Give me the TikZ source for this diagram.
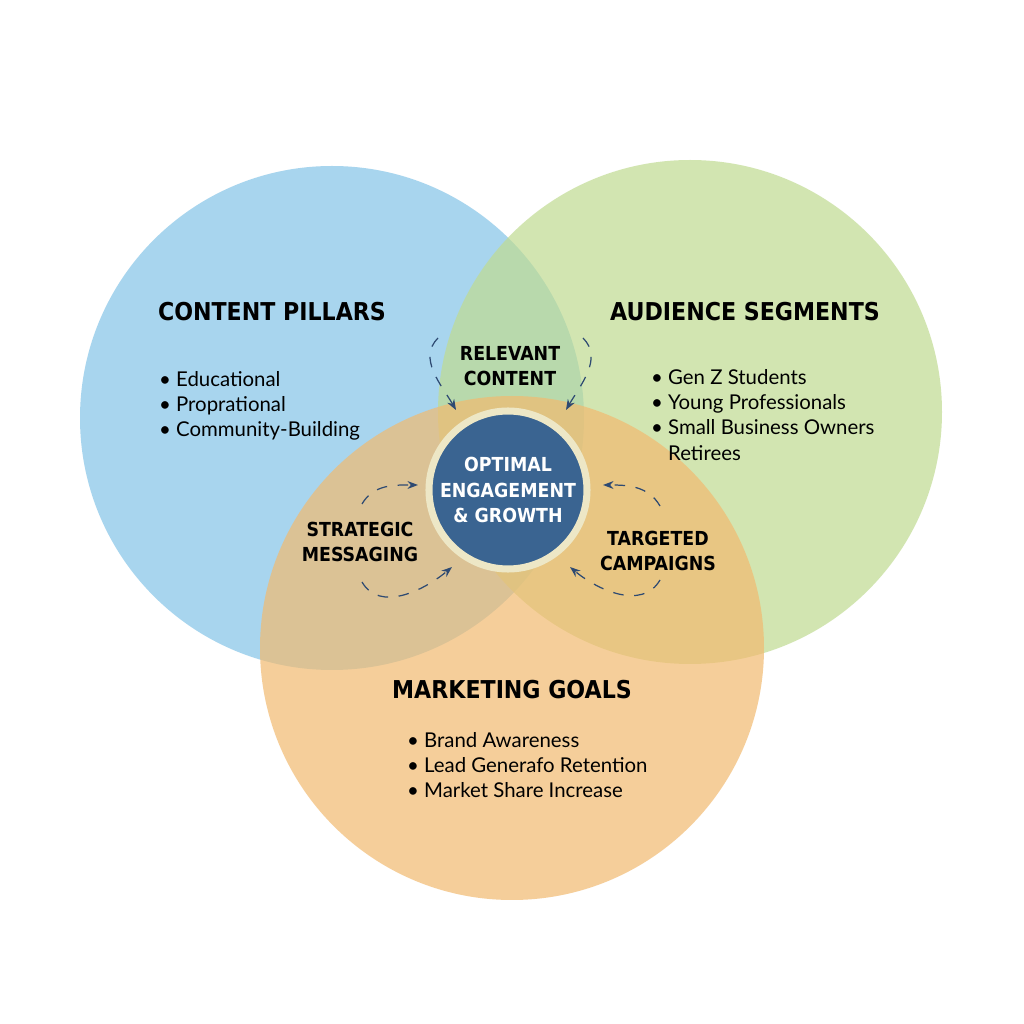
\documentclass[tikz,border=0pt]{standalone}
\usepackage{fontspec}
\setmainfont{Lato}
\newfontfamily\headfont{DejaVu Sans Condensed}
\usetikzlibrary{arrows.meta}
\definecolor{pillarblue}{HTML}{84C4E7}
\definecolor{audgreen}{HTML}{C0DB91}
\definecolor{goalorange}{HTML}{F2BA70}
\definecolor{hubblue}{HTML}{3A6491}
\definecolor{ringcream}{HTML}{EDE7C6}
\definecolor{arrowblue}{HTML}{2E4A72}
\begin{document}
\begin{tikzpicture}[>=Stealth, thick,
        set circle/.style={circle, draw=none, minimum size=5.04cm, fill opacity=0.7},
        head/.style={font=\headfont\bfseries\fontsize{7}{8.4}\selectfont, align=center},
        overlap/.style={font=\headfont\bfseries\fontsize{5.5}{7.2}\selectfont, align=center},
        bullets/.style={font=\fontsize{5.8}{7.2}\selectfont, align=left},
        flow/.style={->, dashed, draw=arrowblue, line width=0.35pt, >={Stealth[length=3pt]}}]
    \useasboundingbox (0,0) rectangle (10.24,10.24);
    \fill[white] (0,0) rectangle (10.24,10.24);

    % Sets
    \node[set circle, fill=pillarblue] (pillars) at (3.32,6.06) {};
    \node[set circle, fill=audgreen] (audience) at (6.90,6.12) {};
    \node[set circle, fill=goalorange] (goals) at (5.12,3.76) {};

    % Hub
    \node[circle, fill=hubblue, draw=ringcream, line width=2pt, minimum size=1.58cm,
          inner sep=0pt, text=white, overlap] (hub) at (5.08,5.34) {OPTIMAL\\ENGAGEMENT\\\& GROWTH};

    % Titles
    \node[head] (pillarstitle) at (2.72,7.12) {CONTENT PILLARS};
    \node[head] (audtitle) at (7.45,7.12) {AUDIENCE SEGMENTS};
    \node[head] (goalstitle) at (5.12,3.34) {MARKETING GOALS};

    % Lists
    \node[bullets, anchor=north west] (pillarlist) at (1.46,6.66)
        {• Educational\\• Proprational\\• Community-Building};
    \node[bullets, anchor=north west] (audlist) at (6.38,6.68)
        {• Gen Z Students\\• Young Professionals\\• Small Business Owners\\\phantom{• }Retirees};
    \node[bullets, anchor=north west] (goallist) at (3.94,3.05)
        {• Brand Awareness\\• Lead Generafo Retention\\• Market Share Increase};

    % Overlaps
    \node[overlap] (relevant) at (5.10,6.58) {RELEVANT\\CONTENT};
    \node[overlap] (strategic) at (3.60,4.82) {STRATEGIC\\MESSAGING};
    \node[overlap] (targeted) at (6.58,4.73) {TARGETED\\CAMPAIGNS};

    % Arrow ends
    \coordinate (rl) at (4.38,6.86);
    \coordinate (rr) at (5.83,6.86);
    \coordinate (su) at (3.62,5.20);
    \coordinate (sd) at (3.62,4.42);
    \coordinate (tu) at (6.60,5.18);
    \coordinate (td) at (6.60,4.44);

    \draw[flow] (rl) to[out=225, in=120] (4.56,6.14);
    \draw[flow] (rr) to[out=-45, in=60] (5.66,6.14);
    \draw[flow] (su) to[out=60, in=180] (4.18,5.39);
    \draw[flow] (sd) to[out=-60, in=220] (4.52,4.57);
    \draw[flow] (tu) to[out=120, in=0] (6.03,5.39);
    \draw[flow] (td) to[out=-120, in=-40] (5.70,4.57);
\end{tikzpicture}
\end{document}
